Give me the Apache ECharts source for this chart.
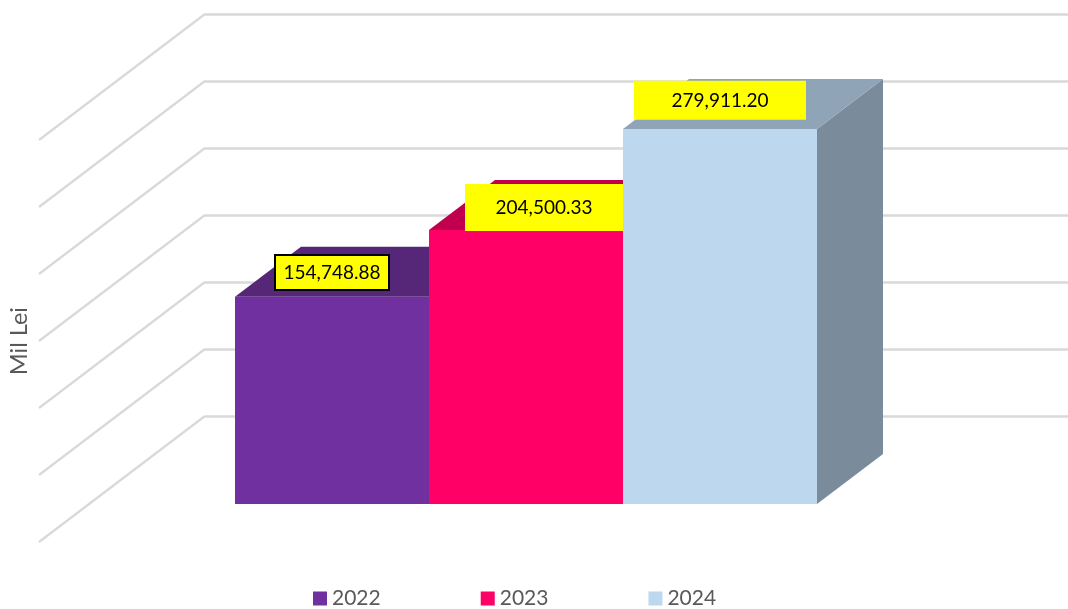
<!DOCTYPE html>
<html><head><meta charset="utf-8">
<style>html,body{margin:0;padding:0;background:#fff}#c{width:1068px;height:609px}</style>
<script src="https://cdn.jsdelivr.net/npm/echarts@6/dist/echarts.min.js"></script>
</head><body><div id="c"></div>
<script>
const categories = ['2022', '2023', '2024'];
const values = [154748.88, 204500.33, 279911.20];
const gridValues = [0, 50000, 100000, 150000, 200000, 250000, 300000];
const axisTitle = 'Mil Lei';

const faceColors = ['#7030A0', '#FF0066', '#BDD7EE'];
const topColors = ['#562678', '#C0004F', '#90A4B8'];
const sideColors = ['#472063', '#A00042', '#7A8B9B'];
const labelBoxes = [
  {x0: -57, x1: 57, y0: -41.7, y1: -6.7, border: true},
  {x0: -61, x1: 97, y0: -46, y1: 1, border: false},
  {x0: -86, x1: 86, y0: -48.3, y1: -9.3, border: false}
];
const DEPTH_X = 66, DEPTH_Y = 50;
const WALL_X = 166, WALL_Y = 126;
const fmt = v => v.toLocaleString('en-US', {minimumFractionDigits: 2, maximumFractionDigits: 2});

function renderBar(idx) {
  return function (params, api) {
    const cat = api.value(0), val = api.value(1);
    const band = api.size([1, 0])[0];
    const c = api.coord([cat, val]);
    const b = api.coord([cat, 0]);
    const l = c[0] - band / 2, r = c[0] + band / 2, t = c[1], bt = b[1];
    const poly = (points, fill) => ({type: 'polygon', shape: {points}, style: {fill, stroke: null}});
    const box = labelBoxes[idx];
    const bx0 = c[0] + box.x0, bx1 = c[0] + box.x1, by0 = t + box.y0, by1 = t + box.y1;
    return {
      type: 'group',
      children: [
        poly([[r, t], [r + DEPTH_X, t - DEPTH_Y], [r + DEPTH_X, bt - DEPTH_Y], [r, bt]], sideColors[idx]),
        poly([[l, t], [l + DEPTH_X, t - DEPTH_Y], [r + DEPTH_X, t - DEPTH_Y], [r, t]], topColors[idx]),
        poly([[l, t], [r, t], [r, bt], [l, bt]], faceColors[idx]),
        {type: 'rect', z2: 10,
          shape: {x: bx0, y: by0, width: bx1 - bx0, height: by1 - by0},
          style: {fill: '#FFFF00', stroke: box.border ? '#000' : null, lineWidth: box.border ? 2 : 0}},
        {type: 'text', z2: 11,
          style: {text: fmt(val), x: (bx0 + bx1) / 2, y: (by0 + by1) / 2 + 0.5,
            align: 'center', verticalAlign: 'middle', fill: '#000',
            font: '19px Lato, "Noto Sans", sans-serif'}}
      ]
    };
  };
}

const option = {
  animation: false,
  backgroundColor: '#fff',
  grid: [
    {left: 205, right: 0, top: 14, bottom: 193, outerBoundsMode: 'none'},
    {left: 235, width: 582, top: 102.2, bottom: 105, outerBoundsMode: 'none'}
  ],
  xAxis: [
    {gridIndex: 0, type: 'value', min: 0, max: 1, show: false},
    {gridIndex: 1, type: 'category', data: categories, show: false}
  ],
  yAxis: [
    {gridIndex: 0, type: 'value', min: 0, max: 300000, interval: 50000,
      axisLine: {show: false}, axisTick: {show: false}, axisLabel: {show: false},
      splitLine: {show: true, lineStyle: {color: '#D9D9D9', width: 2.5}}},
    {gridIndex: 1, type: 'value', min: 0, max: 300000, interval: 50000,
      axisLine: {show: false}, axisTick: {show: false}, axisLabel: {show: false},
      splitLine: {show: false},
      name: axisTitle, nameLocation: 'middle', nameGap: 204, nameRotate: 90,
      nameTextStyle: {color: '#595959', fontSize: 23.5, fontFamily: 'Lato, "Noto Sans", sans-serif',
        padding: [0, 76, 0, 0]}}
  ],
  legend: {
    left: 313, top: 588, padding: 0, itemWidth: 14, itemHeight: 14, itemGap: 100, icon: 'rect',
    data: categories, selectedMode: false,
    textStyle: {color: '#595959', fontSize: 21, fontFamily: 'Lato, "Noto Sans", sans-serif'}
  },
  series: [
    {type: 'custom', name: 'wall', xAxisIndex: 0, yAxisIndex: 0, silent: true, clip: false, z: 1,
      data: gridValues.map(v => [0, v]),
      encode: {x: 0, y: 1},
      renderItem(params, api) {
        const p = api.coord([api.value(0), api.value(1)]);
        return {type: 'line',
          shape: {x1: p[0], y1: p[1], x2: p[0] - WALL_X, y2: p[1] + WALL_Y},
          style: {stroke: '#D9D9D9', lineWidth: 2.2, fill: null}};
      }},
    ...categories.map((name, i) => ({
      type: 'custom', name, xAxisIndex: 1, yAxisIndex: 1, clip: false, z: 2 + i,
      itemStyle: {color: faceColors[i]},
      data: [[i, values[i]]],
      encode: {x: 0, y: 1},
      renderItem: renderBar(i)
    }))
  ]
};
echarts.init(document.getElementById('c'), null, {renderer: 'canvas'}).setOption(option);
</script></body></html>
